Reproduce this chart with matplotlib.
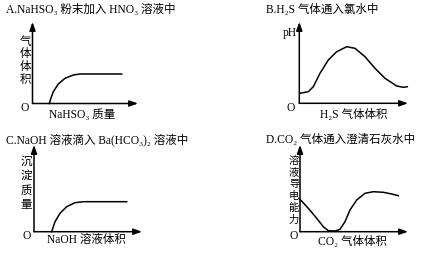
import matplotlib.pyplot as plt

W, H = 426, 260

# curve A: NaHSO3 into HNO3 (gas volume vs mass)
a_x = [16.8, 18.5, 20.8, 25.8, 32.5, 40.8, 47.5, 89.2]
a_y = [0, 5.5, 11.8, 19.5, 25.2, 28.5, 29.5, 29.5]

# curve B: H2S into chlorine water (pH vs volume)
b_x = [0.7, 9, 14, 20.7, 29, 37.4, 47.4, 55.7, 65.7, 75.7, 85.7, 97.4, 104, 108]
b_y = [10, 11.6, 16.6, 30, 43.3, 51.6, 56.6, 55, 46.6, 35, 25, 17.3, 16, 16.6]

# curve C: NaOH into Ba(HCO3)2 (precipitate mass)
c_x = [17.7, 19.5, 21, 26, 32.7, 41, 49.3, 92.7]
c_y = [0, 5.5, 10, 18.4, 25, 29, 30, 30]

# curve D: CO2 into lime water (conductivity)
d_x = [0, 8.3, 16.7, 23.3, 28.3, 35, 40, 45, 50, 56.7, 65, 73.3, 83.3, 91.7, 98.3]
d_y = [32.4, 23.4, 13.4, 5, 1, 0.7, 2.4, 10, 21.7, 31.7, 38.4, 40, 39.4, 37.7, 36]

fam = ['Liberation Serif', 'DejaVu Serif', 'Noto Sans CJK SC']
fs = 8.3

fig = plt.figure(figsize=(W / 100, H / 100), dpi=100)


def panel(left, bottom, right, top, xs, ys):
    ax = fig.add_axes([left / W, 1 - bottom / H, (right - left) / W, (bottom - top) / H])
    ax.set_xlim(0, right - left)
    ax.set_ylim(0, bottom - top)
    ax.axis('off')
    arrow = dict(arrowstyle='-|>,head_length=0.5,head_width=0.18', lw=1.1, color='k',
                 shrinkA=0, shrinkB=0, mutation_scale=10)
    ax.annotate('', xy=(1, 0), xytext=(0, 0), xycoords='axes fraction', arrowprops=arrow)
    ax.annotate('', xy=(0, 1), xytext=(0, 0), xycoords='axes fraction', arrowprops=arrow)
    ax.plot(xs, ys, color='k', lw=1.1, clip_on=False)
    return ax


def txt(x, y, s, size=fs, **kw):
    kw.setdefault('ha', 'center')
    kw.setdefault('va', 'center')
    fig.text(x / W, 1 - y / H, s, family=fam, fontsize=size, **kw)


def vtxt(x, y0, step, s, size=fs):
    # vertical label, one character per line
    for i, ch in enumerate(s):
        txt(x, y0 + i * step, ch, size=size)


panel(32.5, 103.5, 138, 22, a_x, a_y)
panel(299.3, 103.3, 408, 22, b_x, b_y)
panel(34, 231.7, 142, 145, c_x, c_y)
panel(300, 231.7, 408, 145, d_x, d_y)

# titles
txt(6, 10, 'A.NaHSO₃ 粉末加入 HNO₃ 溶液中', ha='left')
txt(266, 10, 'B.H₂S 气体通入氯水中', ha='left')
txt(6, 140, 'C.NaOH 溶液滴入 Ba(HCO₃)₂ 溶液中', ha='left')
txt(266, 140, 'D.CO₂ 气体通入澄清石灰水中', ha='left')

# y labels
vtxt(25, 41.7, 12.8, '气体体积')
txt(290, 33, 'pH')
vtxt(26.5, 161.7, 14.4, '沉淀质量')
vtxt(294, 161.5, 11.6, '溶液导电能力', size=7.4)

# origins
txt(25, 108, 'O')
txt(291, 108, 'O')
txt(27, 236, 'O')
txt(294, 236, 'O')

# x labels
txt(82, 115, 'NaHSO₃ 质量')
txt(354, 115, 'H₂S 气体体积')
txt(86, 240, 'NaOH 溶液体积')
txt(352, 242, 'CO₂ 气体体积')

plt.savefig('out.png', dpi=100)
